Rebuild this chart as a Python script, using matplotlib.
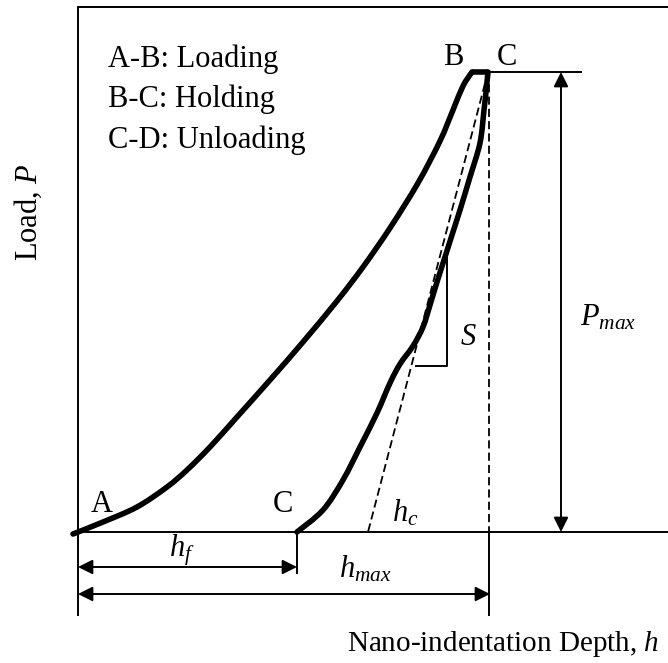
import numpy as np
import matplotlib
matplotlib.use("Agg")
import matplotlib.pyplot as plt
from matplotlib.path import Path
from matplotlib.patches import PathPatch

plt.rcParams['font.family'] = 'Liberation Serif'
plt.rcParams['mathtext.fontset'] = 'custom'
plt.rcParams['mathtext.rm'] = 'Liberation Serif'
plt.rcParams['mathtext.it'] = 'Liberation Serif:italic'

# schematic load-depth curve (arbitrary units)
load_h = [-5, 25, 59, 89, 109, 132, 159, 192, 225, 259, 285, 312, 340, 362, 375, 385, 394]
load_P = [-2, 10, 25, 45, 62, 85, 115, 152, 190, 231, 265, 304, 349, 391, 422, 446, 460]

hold_h = [394, 410]
hold_P = [460, 460]

unload_h = [410, 408, 406, 402, 392, 382, 374, 367, 359, 352, 345, 335, 322, 312, 299, 282, 265, 245, 219]
unload_P = [460, 440, 422, 389, 355, 322, 297, 275, 250, 227, 205, 186, 168, 149, 119, 85, 52, 22, 0]

h_max = 411
h_f = 219
h_c = 290
P_max = 460

# stiffness triangle
s_h = [338, 369, 369]
s_P = [166, 166, 277]


def smooth_curve(ax, xs, ys, **kw):
    # Catmull-Rom through the points, drawn as cubic Bezier segments
    p = np.column_stack([xs, ys]).astype(float)
    ext = np.vstack([p[0], p, p[-1]])
    verts = [p[0]]
    codes = [Path.MOVETO]
    for i in range(1, len(ext) - 2):
        c1 = ext[i] + (ext[i + 1] - ext[i - 1]) / 6
        c2 = ext[i + 1] - (ext[i + 2] - ext[i]) / 6
        verts += [c1, c2, ext[i + 1]]
        codes += [Path.CURVE4] * 3
    ax.add_patch(PathPatch(Path(verts, codes), fill=False, **kw))


fig = plt.figure(figsize=(6.68, 6.63), dpi=100)
ax = fig.add_axes([0, 0, 1, 1])
ax.set_xlim(-78, 590)
ax.set_ylim(-131, 532)
ax.axis('off')

thin = dict(color='black', lw=1.4)
# frame
ax.plot([0, 0], [-83, 525], **thin)
ax.plot([0, 590], [525, 525], **thin)
ax.plot([0, 590], [0, 0], **thin)

# curves
thick = dict(edgecolor='black', lw=4, capstyle='round', joinstyle='round')
smooth_curve(ax, load_h, load_P, **thick)
ax.plot(hold_h, hold_P, color='black', lw=4, solid_capstyle='butt')
smooth_curve(ax, unload_h, unload_P, **thick)

# tangent and h_max guides
ax.plot([h_max - 1, h_c], [P_max, 0], color='black', lw=1.3, dashes=(4.5, 2.3))
ax.plot([h_max, h_max], [P_max, 0], color='black', lw=1.3, dashes=(4.5, 2.3))
ax.plot([h_max, h_max], [0, -83], **thin)
ax.plot([h_f, h_f], [0, -41], **thin)
ax.plot(s_h, s_P, **thin)
ax.plot([h_max - 1, 503], [P_max, P_max], **thin)

arrow = dict(arrowstyle='<|-|>', color='black', lw=1.4, mutation_scale=22,
             shrinkA=0, shrinkB=0)
ax.annotate('', xy=(483, P_max), xytext=(483, 0), arrowprops=arrow)
ax.annotate('', xy=(0, -35), xytext=(h_f, -35), arrowprops=arrow)
ax.annotate('', xy=(0, -62), xytext=(h_max + 1, -62), arrowprops=arrow)

fs = 22
ax.text(30, 465, 'A-B: Loading', fontsize=fs, va='baseline')
ax.text(30, 425, 'B-C: Holding', fontsize=fs, va='baseline')
ax.text(30, 384, 'C-D: Unloading', fontsize=fs, va='baseline')
ax.text(375, 467, 'B', fontsize=fs, ha='center', va='baseline')
ax.text(429, 467, 'C', fontsize=fs, ha='center', va='baseline')
ax.text(24, 20, 'A', fontsize=fs, ha='center', va='baseline')
ax.text(205, 20, 'C', fontsize=fs, ha='center', va='baseline')
ax.text(314, 10, '$h_c$', fontsize=fs, va='baseline')
ax.text(104, -25, '$h_f$', fontsize=fs, ha='center', va='baseline')
ax.text(287, -46, '$h_{max}$', fontsize=fs, ha='center', va='baseline')
ax.text(382, 187, '$S$', fontsize=fs, va='baseline')
ax.text(502, 207, '$P_{max}$', fontsize=fs, va='baseline')
ax.text(-50, 320, 'Load, $P$', fontsize=fs, rotation=90, ha='center', va='center')
ax.text(581, -119, 'Nano-indentation Depth, $h$', fontsize=21, ha='right', va='baseline')

fig.savefig('out.png', dpi=100)
